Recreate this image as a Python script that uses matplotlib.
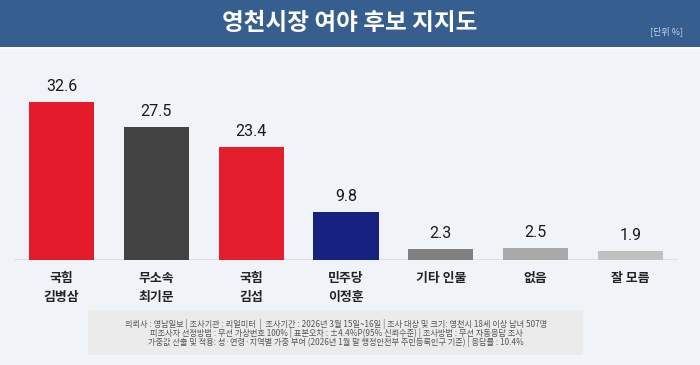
import matplotlib
matplotlib.use("Agg")
import matplotlib.pyplot as plt
from matplotlib.patches import Rectangle

plt.rcParams['font.family'] = ['Noto Sans CJK KR', 'DejaVu Sans']

title = "영천시장 여야 후보 지지도"
unit_label = "[단위 %]"
parties = ["국힘", "무소속", "국힘", "민주당", "기타 인물", "없음", "잘 모름"]
names = ["김병삼", "최기문", "김섭", "이정훈", "", "", ""]
values = [32.6, 27.5, 23.4, 9.8, 2.3, 2.5, 1.9]
colors = ["#E41B2B", "#424242", "#E41E2C", "#17217F", "#808080", "#A8A8A8", "#C0C0C0"]
footnotes = [
    "의뢰사 : 영남일보 | 조사기관 : 리얼미터  |  조사기간 : 2026년 3월 15일~16일 | 조사 대상 및 크기: 영천시 18세 이상 남녀 507명",
    "피조사자 선정방법 : 무선 가상번호 100% | 표본오차 : ±4.4%P(95% 신뢰수준) | 조사방법 : 무선 자동응답 조사",
    "가중값 산출 및 적용: 성·연령·지역별 가중 부여 (2026년 1월 말 행정안전부 주민등록인구 기준) | 응답률 : 10.4%",
]

W, H = 700, 365
fig = plt.figure(figsize=(W / 100, H / 100), dpi=100)
fig.patch.set_facecolor("#F0F3F7")

def fx(px):
    return px / W

def fy(py):
    return 1 - py / H

# header band
fig.patches.append(Rectangle((0, fy(47)), 1, 47 / H, transform=fig.transFigure,
                             facecolor="#365E8F", edgecolor="none", zorder=0))
fig.patches.append(Rectangle((0, fy(49)), 1, 2 / H, transform=fig.transFigure,
                             facecolor="#FFFFFF", edgecolor="none", zorder=0))
fig.text(0.5, fy(23), title, color="white", fontsize=17, fontweight="bold",
         ha="center", va="center")
fig.text(fx(683), fy(31), unit_label, color="#C9D3E3", fontsize=6.5,
         ha="right", va="center")

# footnote box
fig.patches.append(Rectangle((fx(88), fy(355)), (583 - 88) / W, 45 / H,
                             transform=fig.transFigure, facecolor="#EBEBEC",
                             edgecolor="none", zorder=0))
for i, line in enumerate(footnotes):
    fig.text(fx(336), fy(324 + 9 * i), line, color="#555555", fontsize=5.9,
             ha="center", va="center")

# bars axes
left_px, right_px = 14, 678
base_px, top_px = 260, 60
ax = fig.add_axes([fx(left_px), fy(base_px), (right_px - left_px) / W,
                   (base_px - top_px) / H])
ax.set_facecolor("none")
ax.set_xlim(-0.5, 6.5)
ax.set_ylim(0, (base_px - top_px) / 4.85)
x = list(range(len(values)))
ax.bar(x, values, width=0.686, color=colors, zorder=2)
ax.axhline(0, color="#D6DBE2", linewidth=1.2, zorder=1)
for s in ax.spines.values():
    s.set_visible(False)
ax.set_xticks([])
ax.set_yticks([])

for xi, v in zip(x, values):
    ax.annotate(f"{v}", xy=(xi, v), xytext=(0, 15.5 * 0.72), textcoords="offset points",
                ha="center", va="center", fontsize=11.5, color="#1A1A1A",
                family=["Roboto", "DejaVu Sans"])

for xi, p, n in zip(x, parties, names):
    ax.annotate(p, xy=(xi, 0), xytext=(0, -18 * 0.72), textcoords="offset points",
                ha="center", va="center", fontsize=9.3, fontweight="bold", color="#222222",
                annotation_clip=False)
    if n:
        ax.annotate(n, xy=(xi, 0), xytext=(0, -37 * 0.72), textcoords="offset points",
                    ha="center", va="center", fontsize=9.3, fontweight="bold", color="#222222",
                    annotation_clip=False)

fig.savefig("out.png", dpi=100, facecolor=fig.get_facecolor())
